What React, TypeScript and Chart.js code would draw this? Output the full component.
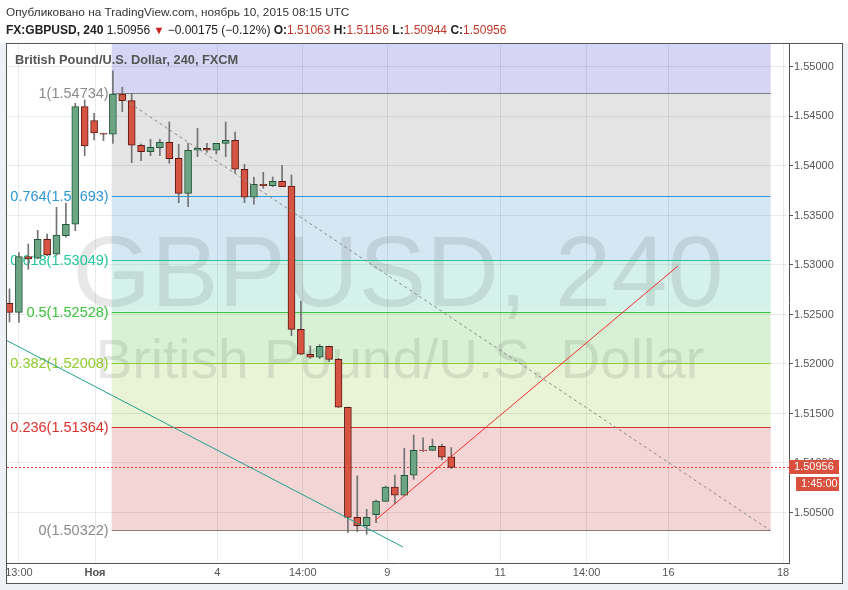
import React, { useEffect, useRef } from "react";
import { Chart, registerables } from "chart.js";

Chart.register(...registerables);

// ---- data ----
const opens = [1.52613, 1.52522, 1.53084, 1.53068, 1.5326, 1.53108, 1.53296, 1.53411, 1.54599, 1.54458, 1.5433, 1.5432,
  1.54727, 1.5466, 1.54209, 1.54144, 1.54185, 1.54239, 1.54078, 1.53724, 1.54159, 1.54179, 1.54159, 1.54229,
  1.5426, 1.53967, 1.53684, 1.53815, 1.53801, 1.53845, 1.53798, 1.5235, 1.52098, 1.52068, 1.52179, 1.52047,
  1.51563, 1.50451, 1.50367, 1.50478, 1.50613, 1.50758, 1.50674, 1.50876, 1.51131, 1.51128, 1.51169, 1.51063];
const highs = [1.52758, 1.53124, 1.53212, 1.5335, 1.53313, 1.53583, 1.53623, 1.54633, 1.54667, 1.54532, 1.54332, 1.5496,
  1.54795, 1.54734, 1.54222, 1.5427, 1.5427, 1.54444, 1.54219, 1.54229, 1.54381, 1.54229, 1.54229, 1.54444,
  1.54343, 1.54017, 1.53889, 1.53936, 1.53889, 1.54007, 1.53909, 1.52636, 1.52182, 1.52195, 1.5218, 1.52057,
  1.51565, 1.50869, 1.50532, 1.50626, 1.50768, 1.50879, 1.51149, 1.51283, 1.51253, 1.51242, 1.51192, 1.51156];
const lows = [1.52424, 1.52421, 1.52957, 1.53062, 1.53095, 1.531, 1.5328, 1.53346, 1.54104, 1.54263, 1.54256, 1.54229,
  1.54548, 1.54033, 1.54054, 1.54104, 1.54104, 1.54027, 1.53629, 1.53589, 1.54094, 1.54138, 1.54121, 1.54094,
  1.53926, 1.53629, 1.53613, 1.53775, 1.53791, 1.5379, 1.52286, 1.52095, 1.52057, 1.52054, 1.52023, 1.5156,
  1.50296, 1.50306, 1.5028, 1.50397, 1.5061, 1.50586, 1.5067, 1.50835, 1.51114, 1.51125, 1.5103, 1.50944];
const closes = [1.52522, 1.53084, 1.53061, 1.5326, 1.53101, 1.53303, 1.53411, 1.54599, 1.54202, 1.54333, 1.5432, 1.54727,
  1.5466, 1.54209, 1.54144, 1.54189, 1.54239, 1.54074, 1.53724, 1.54159, 1.54179, 1.54159, 1.54229, 1.5426,
  1.53967, 1.53684, 1.53815, 1.53801, 1.53845, 1.53791, 1.5235, 1.52098, 1.52068, 1.52179, 1.52047, 1.51563,
  1.50451, 1.50367, 1.50451, 1.50616, 1.50758, 1.50674, 1.50876, 1.51128, 1.51125, 1.51169, 1.51058, 1.50956];

const xTickPositions = [1.0, 9.1, 22.1, 31.2, 40.2, 52.2, 61.4, 70.1, 82.3];
const xTickLabels = ["13:00", "Ноя", "4", "14:00", "9", "11", "14:00", "16", "18"];
const yTickValues = [1.505, 1.51, 1.515, 1.52, 1.525, 1.53, 1.535, 1.54, 1.545, 1.55];

const fibLevels = [1, 0.764, 0.618, 0.5, 0.382, 0.236, 0];
const fibPrices = [1.54734, 1.53693, 1.53049, 1.52528, 1.52008, 1.51364, 1.50322];
const fibLineColors = ["#808080", "#2e97d4", "#22c79e", "#3cc23c", "#8fcb2a", "#d8322c", "#808080"];
const fibLabelColors = ["#8a8a8a", "#2e97d4", "#22c79e", "#3cc23c", "#8fcb2a", "#d8322c", "#8a8a8a"];
const fibBandColors = ["#d6d5f3", "#e4e4e4", "#d4e7f3", "#d5f2ea", "#d8f1d4", "#e9f4d6", "#f3d5d5"];
const fibTopPrice = 1.56;
const fibRange = [10.87, 80.98];

const trendGray = { x: [11.2, 80.9], y: [1.54734, 1.50322] };
const trendTeal = { x: [-0.27, 41.86], y: [1.52236, 1.50152] };
const trendRed = { x: [38.91, 71.12], y: [1.50421, 1.5299] };

const lastPrice = 1.50956;
const countdown = "1:45:00";
const watermarkBig = "GBPUSD, 240";
const watermarkSmall = "British Pound/U.S. Dollar";
const chartTitle = "British Pound/U.S. Dollar, 240, FXCM";

const UP = "#6ba583", DOWN = "#d75442", UP_BORDER = "#225437", DOWN_BORDER = "#5b1a13", WICK = "#737375";
const FONT = '"Liberation Sans", Arial, sans-serif';

const overlayPlugin = {
  id: "overlay",
  beforeDraw(chart: any) {
    const { ctx, chartArea: ca, scales } = chart;
    const x = scales.x, y = scales.y;
    ctx.save();
    ctx.fillStyle = "#eef1f5";
    ctx.fillRect(0, 0, chart.width, chart.height);
    ctx.fillStyle = "#ffffff";
    ctx.fillRect(0, 0, chart.width, 43);
    ctx.fillRect(7, 43, 835, 540);
    ctx.beginPath();
    ctx.rect(ca.left, ca.top, ca.width, ca.height);
    ctx.clip();
    const xl = x.getPixelForValue(fibRange[0]);
    const xr = x.getPixelForValue(fibRange[1]);
    const bandTops = [fibTopPrice, ...fibPrices.slice(0, -1)];
    for (let i = 0; i < fibBandColors.length; i++) {
      const t = y.getPixelForValue(bandTops[i]);
      const b = y.getPixelForValue(fibPrices[i]);
      ctx.fillStyle = fibBandColors[i];
      ctx.fillRect(xl, t, xr - xl, b - t);
    }
    ctx.restore();
  },
  beforeDatasetsDraw(chart: any) {
    const { ctx, chartArea: ca, scales } = chart;
    const x = scales.x, y = scales.y;
    ctx.save();
    ctx.beginPath();
    ctx.rect(ca.left, ca.top, ca.width, ca.height);
    ctx.clip();
    // watermark
    ctx.fillStyle = "rgba(60,60,60,0.12)";
    ctx.textAlign = "center";
    ctx.textBaseline = "alphabetic";
    ctx.font = `101px ${FONT}`;
    ctx.fillText(watermarkBig, 398, 306);
    ctx.font = `55px ${FONT}`;
    ctx.fillText(watermarkSmall, 400, 378);
    // fib lines and labels
    const xl = x.getPixelForValue(fibRange[0]);
    const xr = x.getPixelForValue(fibRange[1]);
    ctx.lineWidth = 1;
    ctx.font = `14.5px ${FONT}`;
    ctx.textAlign = "right";
    ctx.textBaseline = "middle";
    for (let i = 0; i < fibPrices.length; i++) {
      const py = Math.round(y.getPixelForValue(fibPrices[i])) + 0.5;
      ctx.strokeStyle = fibLineColors[i];
      ctx.beginPath();
      ctx.moveTo(xl, py);
      ctx.lineTo(xr, py);
      ctx.stroke();
      ctx.fillStyle = fibLabelColors[i];
      ctx.fillText(`${fibLevels[i]}(${fibPrices[i].toFixed(5)})`, xl - 3, py);
    }
    // title
    ctx.textAlign = "left";
    ctx.fillStyle = "#555";
    ctx.font = `bold 12.8px ${FONT}`;
    ctx.fillText(chartTitle, 15, 60);
    // current price dotted line
    const lp = Math.round(y.getPixelForValue(lastPrice)) + 0.5;
    ctx.strokeStyle = "#e0392b";
    ctx.setLineDash([2, 2]);
    ctx.beginPath();
    ctx.moveTo(ca.left, lp);
    ctx.lineTo(ca.right, lp);
    ctx.stroke();
    ctx.restore();
  },
  afterDraw(chart: any) {
    const { ctx, chartArea: ca, scales } = chart;
    const y = scales.y;
    ctx.save();
    ctx.strokeStyle = "#555";
    ctx.lineWidth = 1;
    ctx.strokeRect(6.5, 43.5, 836, 540);
    const lp = Math.round(y.getPixelForValue(lastPrice));
    ctx.fillStyle = "#d9503e";
    ctx.fillRect(ca.right, lp - 7, 50, 14);
    ctx.fillRect(ca.right + 7, lp + 10, 43, 14);
    ctx.fillStyle = "#ffffff";
    ctx.font = `11px ${FONT}`;
    ctx.textBaseline = "middle";
    ctx.textAlign = "left";
    ctx.fillText(lastPrice.toFixed(5), ca.right + 5, lp);
    ctx.fillText(countdown, ca.right + 12, lp + 17);
    ctx.restore();
  },
};

export default function App() {
  const ref = useRef<HTMLCanvasElement>(null);
  useEffect(() => {
    document.body.style.margin = "0";
    const idx = opens.map((_, i) => i);
    const up = idx.map((i) => closes[i] >= opens[i]);
    const chart = new Chart(ref.current!, {
      type: "bar",
      data: {
        datasets: [
          {
            type: "line",
            data: trendGray.x.map((v, i) => ({ x: v, y: trendGray.y[i] })),
            borderColor: "#8a8a8a",
            borderDash: [3, 3],
            borderWidth: 1,
            pointRadius: 0,
            order: 0,
          } as any,
          {
            type: "line",
            data: trendTeal.x.map((v, i) => ({ x: v, y: trendTeal.y[i] })),
            borderColor: "#22a08c",
            borderWidth: 1,
            pointRadius: 0,
            order: 0,
          },
          {
            type: "line",
            data: trendRed.x.map((v, i) => ({ x: v, y: trendRed.y[i] })),
            borderColor: "#f23030",
            borderWidth: 1,
            pointRadius: 0,
            order: 0,
          },
          {
            type: "bar",
            data: idx.map((i) => ({ x: i, y: [opens[i], closes[i]] })),
            backgroundColor: idx.map((i) => (up[i] ? UP : DOWN)),
            borderColor: idx.map((i) => (up[i] ? UP_BORDER : DOWN_BORDER)),
            borderWidth: 1,
            borderSkipped: false,
            barThickness: 7,
            grouped: false,
            order: 1,
          } as any,
          {
            type: "bar",
            data: idx.map((i) => ({ x: i, y: [lows[i], highs[i]] })),
            backgroundColor: WICK,
            borderWidth: 0,
            barThickness: 1,
            grouped: false,
            order: 2,
          } as any,
        ],
      },
      options: {
        animation: false,
        responsive: false,
        maintainAspectRatio: false,
        layout: { padding: { left: 7, top: 43, right: 6, bottom: 7 } },
        plugins: { legend: { display: false }, tooltip: { enabled: false } },
        scales: {
          x: {
            type: "linear",
            min: -0.266,
            max: 82.93,
            offset: false,
            grid: { offset: false, color: "rgba(0,0,0,0.08)", drawTicks: false },
            border: { display: true, color: "#555" },
            afterFit: (s: any) => { s.height = 20; },
            afterBuildTicks: (s: any) => { s.ticks = xTickPositions.map((v) => ({ value: v })); },
            ticks: {
              autoSkip: false,
              maxRotation: 0,
              padding: 3,
              color: "#555",
              font: (c: any) => ({ family: FONT, size: 11, weight: c.index === 1 ? "bold" : "normal" }),
              callback: (_v: any, i: number) => xTickLabels[i],
            },
          } as any,
          y: {
            type: "linear",
            position: "right",
            min: 1.4999,
            max: 1.55242,
            grid: { color: "rgba(0,0,0,0.08)", tickColor: "#555", tickLength: 4 },
            border: { display: true, color: "#555" },
            afterFit: (s: any) => { s.width = 53; },
            afterBuildTicks: (s: any) => { s.ticks = yTickValues.map((v) => ({ value: v })); },
            ticks: {
              padding: 1,
              color: "#555",
              font: { family: FONT, size: 11 },
              callback: (v: any) => Number(v).toFixed(5),
            },
          } as any,
        },
      },
      plugins: [overlayPlugin],
    });
    return () => chart.destroy();
  }, []);

  const red = { color: "#c0392b" };
  return (
    <div style={{ position: "relative", width: 848, height: 590, fontFamily: FONT }}>
      <canvas ref={ref} width={848} height={590} style={{ position: "absolute", left: 0, top: 0, width: 848, height: 590, display: "block" }} />
      <div style={{ position: "absolute", left: 6, top: 5, fontSize: 11.8, color: "#333", whiteSpace: "nowrap", lineHeight: "15px" }}>
        Опубликовано на TradingView.com, ноябрь 10, 2015 08:15 UTC
      </div>
      <div style={{ position: "absolute", left: 6, top: 23, fontSize: 12, color: "#222", whiteSpace: "nowrap", lineHeight: "15px" }}>
        <b>FX:GBPUSD, 240</b> 1.50956 <span style={{ color: "#c8201e", fontSize: 11 }}>▼</span> −0.00175 (−0.12%){" "}
        <b>O:</b><span style={red}>1.51063</span> <b>H:</b><span style={red}>1.51156</span>{" "}
        <b>L:</b><span style={red}>1.50944</span> <b>C:</b><span style={red}>1.50956</span>
      </div>
    </div>
  );
}
